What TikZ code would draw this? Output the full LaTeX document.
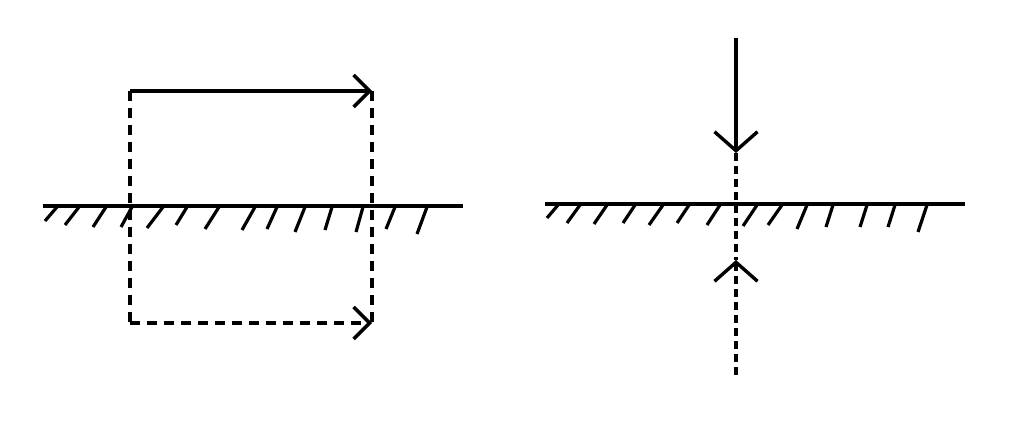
\documentclass[tikz,border=0pt]{standalone}
\usetikzlibrary{arrows.meta}
\begin{document}
\begin{tikzpicture}[x=1pt,y=-1pt,line width=3.4pt,
  dsh/.style={dash pattern=on 10pt off 7pt},
  dshr/.style={dash pattern=on 8pt off 5pt},
  barbA/.style={-{Straight Barb[length=16pt,width=32pt,line width=3.4pt]}},
  barbB/.style={-{Straight Barb[length=19pt,width=43pt,line width=3.4pt]}},
  hatch/.style={line width=3.2pt}]
\useasboundingbox (0,0) rectangle (1024,435);
% left figure
\coordinate (A) at (130,91);
\coordinate (B) at (372,91);
\coordinate (C) at (130,323);
\coordinate (D) at (372,323);
\coordinate (E) at (372,323);
\draw[barbA] (A) -- (B);
\draw[dsh] (A) -- (C);
\draw[dsh,barbA] (C) -- (D);
\draw[dsh] (B) -- (E);
\coordinate (G1) at (43,206);
\coordinate (G2) at (463,206);
\draw (G1) -- (G2);
\foreach \a/\b/\c/\d in {45/221/57/207, 65/225/79/207, 93/227/106/207, 121/227/132/207, 147/228/163/207, 176/225/187/207, 205/229/219/207, 242/230/255/207, 267/229/277/207, 295/232/305/207, 325/230/332/207, 356/232/363/207, 386/229/395/207, 417/234/427/207}
  \draw[hatch] (\a,\b) -- (\c,\d);
% right figure
\coordinate (P) at (736,38);
\coordinate (Q) at (736,153);
\coordinate (R) at (736,260);
\coordinate (S) at (736,375);
\draw[barbB] (P) -- (Q);
\draw[dshr] (Q) -- (R);
\draw[dshr,barbB] (S) -- (R);
\coordinate (H1) at (545,204);
\coordinate (H2) at (965,204);
\draw (H1) -- (H2);
\foreach \a/\b/\c/\d in {547/218/558/205, 567/223/580/205, 594/224/607/205, 623/223/635/205, 649/225/663/205, 677/223/689/205, 707/225/720/205, 743/226/757/205, 768/225/782/205, 797/229/807/205, 826/227/833/205, 860/227/867/205, 888/227/895/205, 918/232/927/205}
  \draw[hatch] (\a,\b) -- (\c,\d);
\end{tikzpicture}
\end{document}
